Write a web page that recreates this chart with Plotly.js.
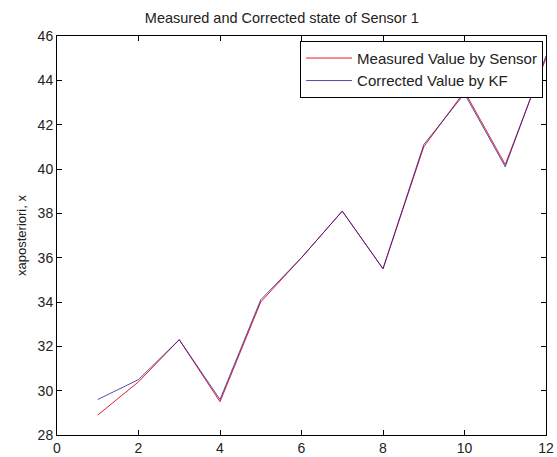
<!DOCTYPE html>
<html>
<head>
<meta charset="utf-8">
<script src="https://cdn.plot.ly/plotly-3.0.1.min.js"></script>
<style>html,body{margin:0;padding:0;background:#fff;}#chart{width:557px;height:457px;}</style>
</head>
<body>
<div id="chart"></div>
<script>
var steps = [1, 2, 3, 4, 5, 6, 7, 8, 9, 10, 11, 12];
var measured = [28.9, 30.4, 32.3, 29.5, 34.0, 36.0, 38.1, 35.5, 41.0, 43.5, 40.2, 45.0];
var corrected = [29.6, 30.5, 32.3, 29.6, 34.1, 36.0, 38.1, 35.5, 41.1, 43.4, 40.1, 45.1];
var xTicks = [0, 2, 4, 6, 8, 10, 12];
var yTicks = [28, 30, 32, 34, 36, 38, 40, 42, 44, 46];

var font = "Liberation Sans, Arial, sans-serif";
var traces = [
  {x: steps, y: measured, type: 'scatter', mode: 'lines', name: 'Measured Value by Sensor',
   line: {color: 'rgb(235,30,40)', width: 1}},
  {x: steps, y: corrected, type: 'scatter', mode: 'lines', name: 'Corrected Value by KF',
   line: {color: 'rgba(20,20,150,0.75)', width: 1}}
];
var axisCommon = {
  showline: true, linecolor: '#000', linewidth: 1, mirror: 'ticks',
  ticks: 'inside', ticklen: 5, tickcolor: '#000', tickwidth: 1,
  showgrid: false, zeroline: false,
  tickfont: {family: font, size: 14, color: '#222'}
};
var layout = {
  width: 557, height: 457,
  margin: {l: 57, r: 11, t: 36, b: 22, pad: 0},
  paper_bgcolor: '#fff', plot_bgcolor: '#fff',
  title: {text: 'Measured and Corrected state of Sensor 1', font: {family: font, size: 14.5, color: '#222'},
          x: 0.506, xanchor: 'center', y: 0.96, yanchor: 'middle'},
  xaxis: Object.assign({}, axisCommon, {range: [0, 12], tickvals: xTicks, ticktext: xTicks.map(String)}),
  yaxis: Object.assign({}, axisCommon, {range: [28, 46], tickvals: yTicks, ticktext: yTicks.map(String),
    title: {text: 'xaposteriori, x', font: {family: font, size: 13, color: '#222'}, standoff: 8}}),
  showlegend: true,
  legend: {x: 0.994, xanchor: 'right', y: 0.988, yanchor: 'top', bgcolor: '#fff',
    bordercolor: '#000', borderwidth: 1, itemwidth: 46,
    font: {family: font, size: 15, color: '#222'}, tracegroupgap: 0}
};
Plotly.newPlot('chart', traces, layout, {displayModeBar: false, staticPlot: true});
</script>
</body>
</html>
